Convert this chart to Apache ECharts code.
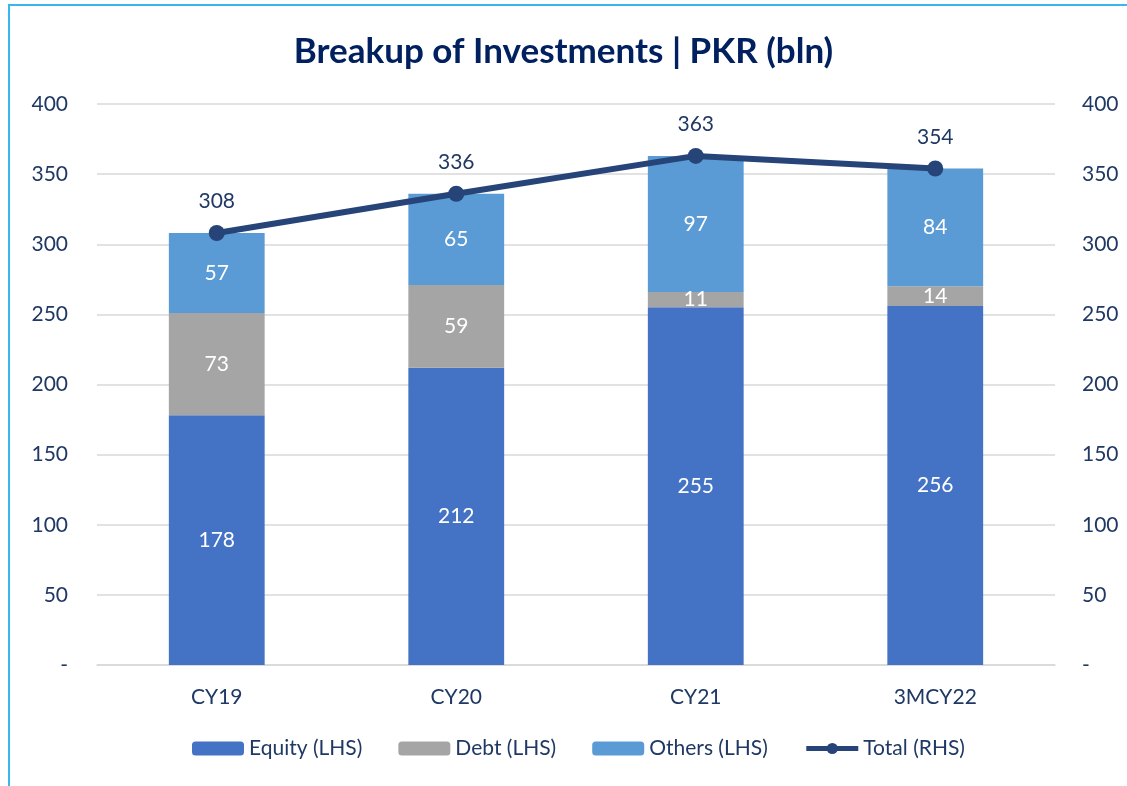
<!DOCTYPE html>
<html>
<head>
<meta charset="utf-8">
<script src="https://cdn.jsdelivr.net/npm/echarts@6/dist/echarts.min.js"></script>
<style>
  html, body { margin: 0; padding: 0; background: #fff; }
  #chart { width: 1127px; height: 786px; }
</style>
</head>
<body>
<div id="chart"></div>
<script>
const categories = ['CY19', 'CY20', 'CY21', '3MCY22']
const equity = [178, 212, 255, 256]
const debt = [73, 59, 11, 14]
const others = [57, 65, 97, 84]
const total = [308, 336, 363, 354]

const navy = '#1F3864'
const fontFamily = 'Lato, "Open Sans", sans-serif'

const chart = echarts.init(document.getElementById('chart'))

const axisLabelFmt = v => (v === 0 ? '-' : v)

const barLabel = {
  show: true,
  position: 'inside',
  color: '#fff',
  fontSize: 21,
  fontFamily
}

const option = {
  backgroundColor: '#fff',
  textStyle: { fontFamily, color: navy },
  graphic: [
    {
      type: 'polyline',
      shape: { points: [[9, 786], [9, 5], [1127, 5]] },
      style: { stroke: '#35B8EE', lineWidth: 2, fill: null },
      silent: true
    }
  ],
  title: {
    text: 'Breakup of Investments | PKR (bln)',
    left: 'center',
    top: 29,
    textStyle: { fontFamily, fontSize: 35, fontWeight: 'bold', color: '#002060' }
  },
  legend: {
    bottom: 22,
    left: 187,
    itemWidth: 52,
    itemHeight: 14,
    itemGap: 36,
    textStyle: { fontFamily, fontSize: 21, color: navy },
    data: [
      'Equity (LHS)',
      'Debt (LHS)',
      'Others (LHS)',
      { name: 'Total (RHS)', lineStyle: { width: 5 } }
    ]
  },
  grid: { left: 97, right: 72, top: 104, bottom: 121 },
  xAxis: {
    type: 'category',
    data: categories,
    axisLine: { lineStyle: { color: '#D9D9D9', width: 1.5 } },
    axisTick: { show: false },
    axisLabel: { color: navy, fontSize: 21, margin: 22, fontFamily }
  },
  yAxis: [
    {
      type: 'value',
      min: 0,
      max: 400,
      interval: 50,
      axisLine: { show: false },
      axisTick: { show: false },
      splitLine: { lineStyle: { color: '#D9D9D9', width: 1.5 } },
      axisLabel: { color: navy, fontSize: 21, margin: 29, formatter: axisLabelFmt }
    },
    {
      type: 'value',
      min: 0,
      max: 400,
      interval: 50,
      axisLine: { show: false },
      axisTick: { show: false },
      splitLine: { show: false },
      axisLabel: { color: navy, fontSize: 21, margin: 27, formatter: axisLabelFmt }
    }
  ],
  series: [
    {
      name: 'Equity (LHS)',
      type: 'bar',
      stack: 'inv',
      barWidth: '40%',
      itemStyle: { color: '#4472C4' },
      label: barLabel,
      data: equity
    },
    {
      name: 'Debt (LHS)',
      type: 'bar',
      stack: 'inv',
      itemStyle: { color: '#A5A5A5' },
      label: barLabel,
      data: debt
    },
    {
      name: 'Others (LHS)',
      type: 'bar',
      stack: 'inv',
      itemStyle: { color: '#5B9BD5' },
      label: barLabel,
      data: others
    },
    {
      name: 'Total (RHS)',
      type: 'line',
      yAxisIndex: 1,
      symbol: 'circle',
      symbolSize: 16,
      lineStyle: { color: '#264478', width: 6 },
      itemStyle: { color: '#264478' },
      label: {
        show: true,
        position: 'top',
        distance: 13,
        color: navy,
        fontSize: 21,
        fontFamily
      },
      data: total
    }
  ]
}

chart.setOption(option)
</script>
</body>
</html>
